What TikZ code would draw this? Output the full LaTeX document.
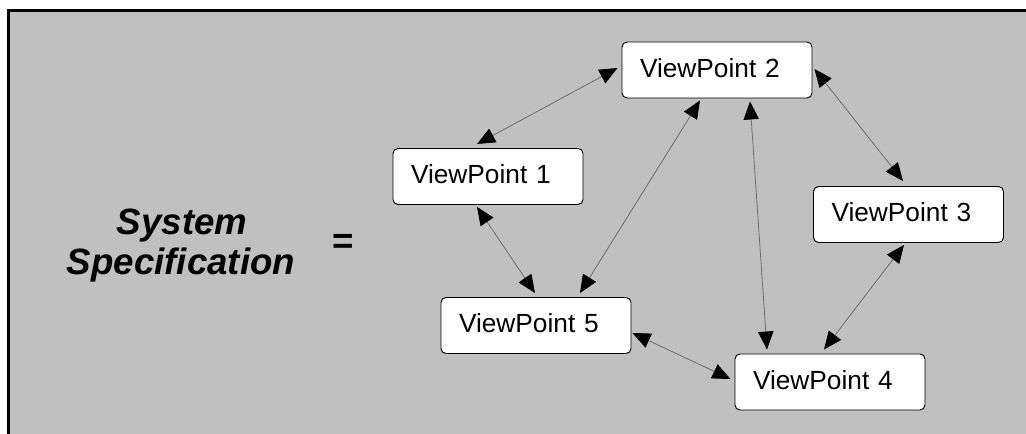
\documentclass[tikz,border=0pt]{standalone}
\usepackage{fontspec}
\setmainfont{Liberation Sans}
\usetikzlibrary{arrows.meta,calc}
\definecolor{bggrey}{HTML}{C0C0C0}
\definecolor{linegrey}{HTML}{6E6E6E}
\tikzset{
  vpbox/.style={draw=black, line width=0.7pt, fill=white, rounded corners=3.75pt,
    minimum height=42pt, inner xsep=13.5pt, inner ysep=0pt, text width=115.5pt, align=left,
    text depth=3.5pt, font=\fontsize{19.7pt}{22pt}\selectfont},
  conn/.style={draw=linegrey, line width=0.6pt,
    {Triangle[length=13.5pt,width=11.5pt,fill=black,color=black]}-{Triangle[length=13.5pt,width=11.5pt,fill=black,color=black]}},
  spectext/.style={font=\fontsize{27.5pt}{30pt}\selectfont\bfseries\itshape, anchor=base, inner sep=0pt}
}
\begin{document}
\begin{tikzpicture}[x=0.75pt,y=-0.75pt]
\useasboundingbox (0,0) rectangle (1026,434);
\fill[white] (0,0) rectangle (1026,434);
\fill[bggrey] (8.75,10.5) rectangle (1026,434);
\draw[black, line width=2.1pt] (8.75,434) -- (8.75,10.5) -- (1026,10.5);

\node[spectext] (spec1) at (182,235) {System};
\node[spectext] (spec2) at (181,275) {Specification};
\node[font=\fontsize{27.5pt}{30pt}\selectfont\bfseries, inner sep=0pt] (eq) at (343,244) {=};

\node[vpbox] (vp1) at (488,176.5) {ViewPoint 1};
\node[vpbox] (vp2) at (717,70) {ViewPoint 2};
\node[vpbox] (vp3) at (908.5,214.5) {ViewPoint 3};
\node[vpbox] (vp4) at (830,382) {ViewPoint 4};
\node[vpbox] (vp5) at (536,325.5) {ViewPoint 5};

\draw[conn] ($(vp1.north)+(-11,-4)$) -- ($(vp2.west)+(-4,-2)$);
\draw[conn] ($(vp2.south)+(-17,2)$) -- ($(vp5.north)+(44,-4)$);
\draw[conn] ($(vp2.south)+(33,3)$) -- ($(vp4.north)+(-63,-4)$);
\draw[conn] ($(vp2.east)+(2,-1)$) -- ($(vp3.north)+(-5.5,-5)$);
\draw[conn] ($(vp1.south)+(-11,2)$) -- ($(vp5.north)+(-1,-4)$);
\draw[conn] ($(vp3.south)+(-4.5,2)$) -- ($(vp4.north)+(-6,-4)$);
\draw[conn] ($(vp5.east)+(1,7.5)$) -- ($(vp4.west)+(-4,-3)$);
\end{tikzpicture}
\end{document}
